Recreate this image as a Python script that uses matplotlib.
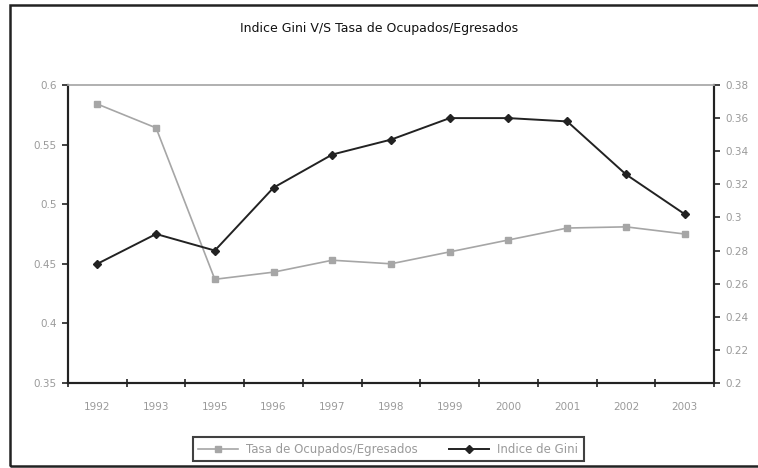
import numpy as np
import matplotlib.pyplot as plt
plt.switch_backend('agg')
from matplotlib.patches import Rectangle

years = ['1992', '1993', '1995', '1996', '1997', '1998', '1999', '2000', '2001', '2002', '2003']
tasa = [0.584, 0.564, 0.437, 0.443, 0.453, 0.450, 0.460, 0.470, 0.480, 0.481, 0.475]
gini = [0.272, 0.290, 0.280, 0.318, 0.338, 0.347, 0.360, 0.360, 0.358, 0.326, 0.302]

x = np.arange(len(years))
grey_txt = '#9a9a9a'

fig = plt.figure(figsize=(7.58, 4.68), dpi=100)
ax1 = fig.add_axes([0.0897, 0.1816, 0.8523, 0.6368])
ax2 = ax1.twinx()

l1, = ax1.plot(x, tasa, color='#a6a6a6', lw=1.2, marker='s', ms=5, mfc='#a6a6a6', mec='#a6a6a6')
l2, = ax2.plot(x, gini, color='#222222', lw=1.4, marker='D', ms=4.5, mfc='#222222', mec='#222222')

ax1.set_xlim(-0.5, len(years) - 0.5)
ax1.set_ylim(0.35, 0.6)
ax2.set_ylim(0.2, 0.38)
ax1.set_yticks(np.arange(0.35, 0.6001, 0.05))
ax1.set_yticklabels(['0.35', '0.4', '0.45', '0.5', '0.55', '0.6'])
ax2.set_yticks(np.arange(0.2, 0.3801, 0.02))
ax2.set_yticklabels(['0.2', '0.22', '0.24', '0.26', '0.28', '0.3', '0.32', '0.34', '0.36', '0.38'])

# category boundaries carry the tick marks, labels sit in the middle
ax1.set_xticks(np.arange(-0.5, len(years), 1.0))
ax1.set_xticklabels([])
ax1.set_xticks(x, minor=True)
ax1.set_xticklabels(years, minor=True)
ax1.tick_params(axis='x', which='major', direction='inout', length=6, width=1.2, color='#222222')
ax1.tick_params(axis='x', which='minor', length=0, pad=14, labelsize=7.5, labelcolor=grey_txt)
ax1.tick_params(axis='y', direction='out', length=4, width=1.2, color='#222222', labelsize=7.5, labelcolor=grey_txt, pad=4)
ax2.tick_params(axis='y', direction='out', length=4, width=1.2, color='#222222', labelsize=7.5, labelcolor=grey_txt, pad=4)

for a in (ax1, ax2):
    for s in ('left', 'bottom', 'right'):
        a.spines[s].set_color('#222222')
        a.spines[s].set_linewidth(1.5)
    a.spines['top'].set_color('#b0b0b0')
    a.spines['top'].set_linewidth(1.2)

fig.text(0.5, 0.94, 'Indice Gini V/S Tasa de Ocupados/Egresados', ha='center', va='center',
         fontsize=9, color='#111111')

leg = fig.legend([l1, l2], ['Tasa de Ocupados/Egresados', 'Indice de Gini'], loc='center',
                 bbox_to_anchor=(0.512, 0.04), ncol=2, fontsize=8.5, frameon=True, fancybox=False,
                 borderpad=0.45, handlelength=3.4, columnspacing=2.6, handletextpad=0.7)
leg.get_frame().set_edgecolor('#111111')
leg.get_frame().set_linewidth(1.5)
for t in leg.get_texts():
    t.set_color(grey_txt)

# outer chart border
fig.patches.append(Rectangle((0.013, 0.004), 1.0, 0.985, transform=fig.transFigure,
                             fill=False, edgecolor='#222222', lw=1.8, zorder=0))

plt.savefig('out.png', dpi=100)
